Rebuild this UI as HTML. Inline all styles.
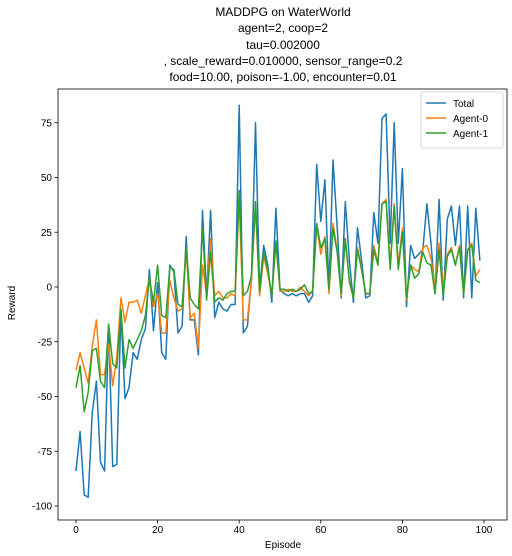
<!DOCTYPE html>
<html><head><meta charset="utf-8"><style>
body{margin:0;background:#fff;}
svg{display:block;font-family:"Liberation Sans","DejaVu Sans",sans-serif;}
</style></head><body>
<svg id="chart" width="512" height="556" viewBox="0 0 512 556">
<g font-size="12" text-anchor="middle" fill="#000">
<text x="283" y="16">MADDPG on WaterWorld</text>
<text x="283" y="32">agent=2, coop=2</text>
<text x="283" y="49">tau=0.002000</text>
<text x="283" y="65">, scale_reward=0.010000, sensor_range=0.2</text>
<text x="283" y="81">food=10.00, poison=-1.00, encounter=0.01</text>
</g>
<rect x="58" y="89" width="449" height="431" fill="none" stroke="#000" stroke-width="0.8"/>
<g id="axes"></g>
<g id="series"></g>
<text x="283" y="548" font-size="10" text-anchor="middle">Episode</text>
<text x="15" y="303" font-size="10" text-anchor="middle" transform="rotate(-90 15 303)">Reward</text>
<g>
<rect x="421" y="92" width="82" height="56" rx="2" fill="#fff" stroke="#ccc" stroke-width="0.8"/>
<g><line x1="426" y1="103" x2="446" y2="103" stroke="#1f77b4" stroke-width="1.5"/><text x="453" y="107" font-size="10">Total</text></g>
<g><line x1="426" y1="118" x2="446" y2="118" stroke="#ff7f0e" stroke-width="1.5"/><text x="453" y="122" font-size="10">Agent-0</text></g>
<g><line x1="426" y1="133" x2="446" y2="133" stroke="#2ca02c" stroke-width="1.5"/><text x="453" y="137" font-size="10">Agent-1</text></g>
</g>
</svg>
<script>
const xTicks=[0,20,40,60,80,100];
const yTicks=[75,50,25,0,-25,-50,-75,-100];
const total=[-84,-66,-95,-96,-57,-43,-80,-84,-17,-82,-81,-11,-51,-46,-30,-33,-24,-19,8,-20,2,-30,-33,10,7,-21,-18,23,-15,-15,-31,35,-4,35,-14,-7,-10,-11,-8,-8,83,-21,-18,3,75,-1,19,10,-7,36,-1,-3,-4,-3,-4,-3,-3,-7,-4,56,30,49,-1,58,28,-5,39,12,-7,27,12,-5,-4,34,20,77,79,20,75,20,54,-9,19,13,15,17,38,20,-3,40,-6,31,37,19,37,-5,37,-5,36,12];
const agent0=[-38,-30,-37,-44,-27,-15,-40,-40,-26,-45,-32,-5,-16,-7,-7,-6,-12,-4,4,-9,-3,-21,-21,3,-5,-11,-10,17,-14,-12,-28,10,-3,22,-4,-2,-5,-5,-3,-4,40,-15,-15,3,37,-4,14,6,-4,20,-2,-2,-1,-2,-2,0,-2,-4,-2,28,15,23,-3,29,17,-4,22,2,-5,18,8,-3,-3,19,11,38,40,10,38,10,27,-6,10,8,7,18,19,13,0,20,-1,15,18,10,19,-3,17,20,5,8];
const agent1=[-46,-36,-57,-48,-29,-28,-43,-46,-17,-35,-37,-10,-37,-24,-28,-24,-20,-13,4,-7,10,-13,-14,9,8,-8,-9,18,-5,-8,-10,27,-6,16,-7,-5,-6,-3,-2,-2,44,-4,-2,5,39,-2,16,8,-4,21,-1,-1,-2,-1,-2,-1,1,-3,-2,29,18,22,-1,27,16,-3,22,3,-5,17,8,-3,-3,17,10,38,39,8,37,8,25,-5,10,4,6,16,11,10,-3,17,-4,14,17,10,18,-3,17,19,3,2];
const NS="http://www.w3.org/2000/svg";
const X=v=>76+v*4.08;
const Y=v=>287-v*2.19;
const axes=document.getElementById('axes');
function mk(t,a,p){const e=document.createElementNS(NS,t);for(const k in a)e.setAttribute(k,a[k]);p.appendChild(e);return e;}
xTicks.forEach(t=>{
 const g=mk('g',{},axes);
 
 
 mk('line',{x1:X(t),x2:X(t),y1:520,y2:523.5,stroke:'#000','stroke-width':0.8},g);
 const tx=mk('text',{x:X(t),y:533,'font-size':10,'text-anchor':'middle'},g);tx.textContent=t;
});
yTicks.forEach(t=>{
 const g=mk('g',{},axes);
 
 
 mk('line',{x1:54.5,x2:58,y1:Y(t),y2:Y(t),stroke:'#000','stroke-width':0.8},g);
 const tx=mk('text',{x:52,y:Y(t)+3.5,'font-size':10,'text-anchor':'end'},g);tx.textContent=t;
});
const ser=document.getElementById('series');
[[total,'#1f77b4','total-line'],[agent0,'#ff7f0e','agent-0-line'],[agent1,'#2ca02c','agent-1-line']].forEach(([d,c,n])=>{
 const p=mk('polyline',{points:d.map((v,i)=>X(i).toFixed(1)+','+Y(v).toFixed(1)).join(' '),fill:'none',stroke:c,'stroke-width':1.5,'stroke-linejoin':'round'},ser);
 
 
});
</script>
</body></html>
